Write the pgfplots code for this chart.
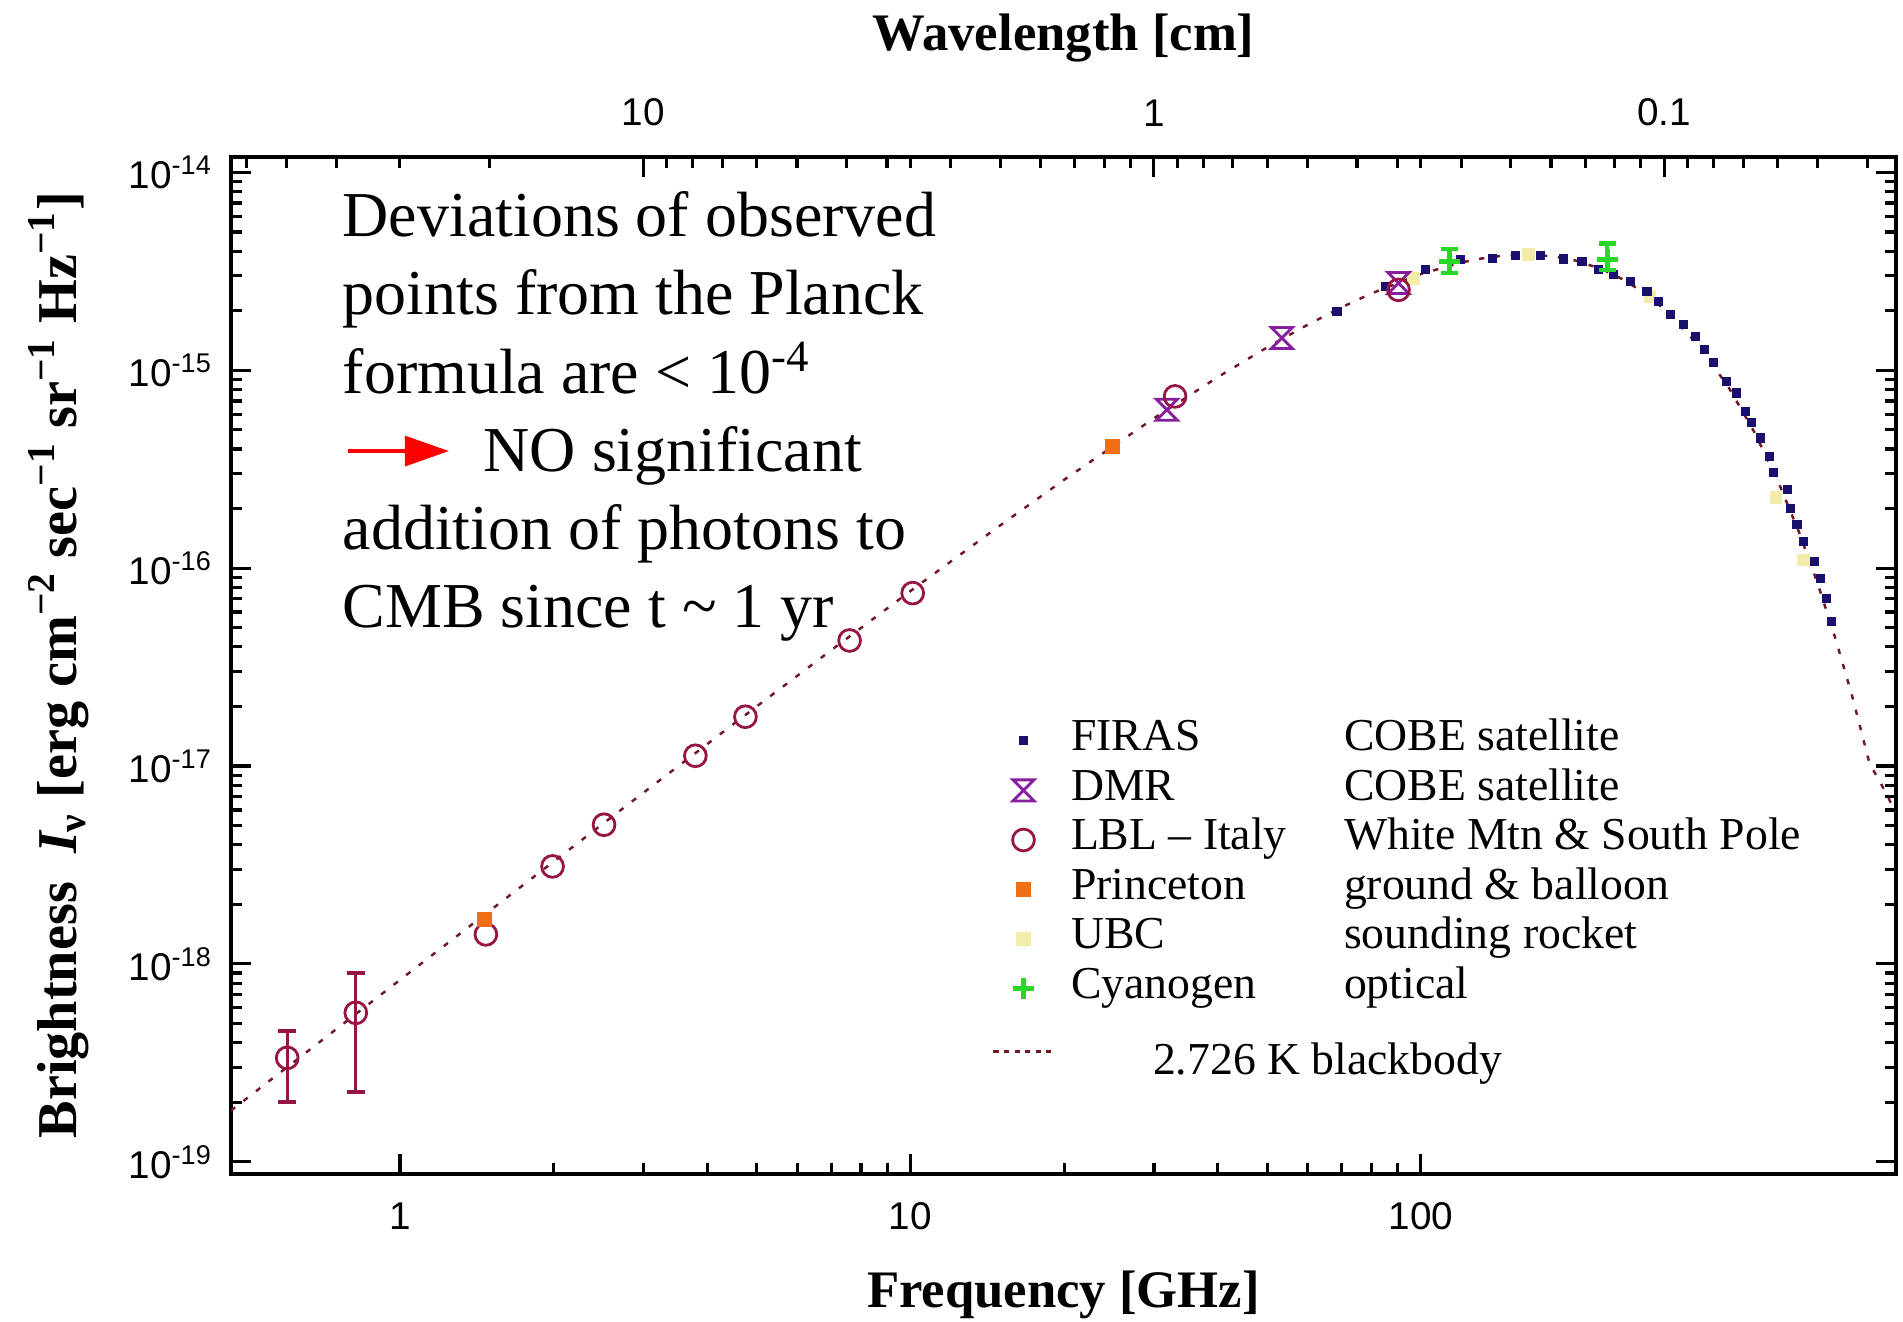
\documentclass[border=0pt]{standalone}
\usepackage{pgfplots}
\pgfplotsset{compat=1.18}
\usepackage{fontspec}
\setmainfont{Liberation Serif}
\setsansfont{Liberation Sans}
\usetikzlibrary{arrows.meta}

\definecolor{bbred}{RGB}{110,25,35}
\definecolor{firas}{RGB}{25,15,110}
\definecolor{dmr}{RGB}{135,30,160}
\definecolor{lbl}{RGB}{150,20,70}
\definecolor{princeton}{RGB}{240,110,20}
\definecolor{ubc}{RGB}{242,238,170}
\definecolor{cngreen}{RGB}{40,215,40}

% hourglass marker for the DMR points
\pgfdeclareplotmark{hourglass}{%
  \pgfpathmoveto{\pgfqpoint{-\pgfplotmarksize}{\pgfplotmarksize}}%
  \pgfpathlineto{\pgfqpoint{\pgfplotmarksize}{\pgfplotmarksize}}%
  \pgfpathlineto{\pgfqpoint{-\pgfplotmarksize}{-\pgfplotmarksize}}%
  \pgfpathlineto{\pgfqpoint{\pgfplotmarksize}{-\pgfplotmarksize}}%
  \pgfpathclose
  \pgfusepathqstroke}

\pgfplotsset{
  cmbbox/.style={
    width=16.65cm, height=10.17cm, scale only axis,
    tick align=inside,
    major tick length=0.2cm, minor tick length=0.11cm,
    every tick/.style={black, line width=0.9pt},
    axis line style={line width=1.2pt},
    tick label style={font=\fontsize{11}{13}\sffamily},
  },
}

\begin{document}
\begin{tikzpicture}
% wavelength labels on top: placed at nu = 29.979/lambda (GHz)
\begin{axis}[
    cmbbox,
    xmode=log,
    xmin=0.4664, xmax=853,
    ymin=0, ymax=1,
    ytick=\empty,
    xtick pos=right, xticklabel pos=right,
    xtick={2.998,29.98,299.8}, xticklabels={10,1,0.1},
    xticklabel style={yshift=0.18cm},
    xlabel={Wavelength [cm]},
    xlabel style={at={(axis description cs:0.5,1.1046)}, anchor=base,
      font=\fontsize{15}{17}\selectfont\bfseries},
]
\addplot[draw=none, forget plot] coordinates {(1,0.5) (10,0.5)};
\end{axis}

\begin{axis}[
    cmbbox,
    xmode=log, ymode=log,
    xmin=0.4664, xmax=853,
    ymin=8.7e-20, ymax=1.2e-14,
    xtick pos=left,
    xtick={1,10,100}, xticklabels={1,10,100},
    ytick={1e-19,1e-18,1e-17,1e-16,1e-15,1e-14},
    yticklabels={10\textsuperscript{-19},10\textsuperscript{-18},10\textsuperscript{-17},
      10\textsuperscript{-16},10\textsuperscript{-15},10\textsuperscript{-14}},
    xticklabel style={yshift=-0.165cm},
    yticklabel style={xshift=-0.06cm},
    xlabel={Frequency [GHz]},
    xlabel style={at={(axis description cs:0.5,-0.1318)}, anchor=base,
      font=\fontsize{15}{17}\selectfont\bfseries},
    ylabel={Brightness\ \ {\itshape I}\textsubscript{ν} [erg cm\textsuperscript{−2} sec\textsuperscript{−1} sr\textsuperscript{−1} Hz\textsuperscript{−1}]},
    ylabel style={at={(axis description cs:-0.0928,0.5)}, anchor=base, rotate=0,
      font=\fontsize{16}{18}\selectfont\bfseries},
    clip mode=individual,
    legend cell align=left,
    legend style={at={(axis description cs:0.457,0.450)}, anchor=north west,
      draw=none, fill=none, inner sep=0pt, outer sep=0pt,
      font=\fontsize{13}{14}\selectfont, row sep=0pt, column sep=0.16cm,
      nodes={inner sep=0pt, text height=9.8pt, text depth=4.3pt}},
]

% wavelength tick marks along the top edge (lambda = 10, 1, 0.1 cm and minors)
\pgfplotsinvokeforeach{2.998,29.98,299.8}{
  \draw[black, line width=0.9pt] (axis cs:#1,1.2e-14) -- ([yshift=-0.2cm]axis cs:#1,1.2e-14);}
\pgfplotsinvokeforeach{0.4997,0.5996,0.7495,0.9993,1.499,
    3.331,3.747,4.283,4.997,5.996,7.495,9.993,14.99,
    33.31,37.47,42.83,49.97,59.96,74.95,99.93,149.9,
    333.1,374.7,428.3,499.7,599.6,749.5}{
  \draw[black, line width=0.9pt] (axis cs:#1,1.2e-14) -- ([yshift=-0.11cm]axis cs:#1,1.2e-14);}

% 2.726 K blackbody
\addplot[bbred, line width=0.7pt, dash pattern=on 1.5pt off 3pt, forget plot] coordinates {
  (0.4664,1.815e-19) (0.6,3.00e-19) (0.8,5.324e-19) (1,8.304e-19)
  (1.5,1.860e-18) (2,3.292e-18) (3,7.342e-18) (5,2.0035e-17)
  (7,3.857e-17) (10,7.661e-17) (15,1.647e-16) (20,2.7955e-16)
  (30,5.723e-16) (40,9.234e-16) (50,1.3061e-15) (60,1.6985e-15)
  (70,2.0826e-15) (80,2.4448e-15) (100,3.0632e-15) (120,3.5064e-15)
  (130,3.6575e-15) (145,3.798e-15) (160,3.8434e-15) (180,3.7771e-15)
  (200,3.597e-15) (225,3.2636e-15) (250,2.8628e-15) (275,2.4429e-15)
  (300,2.0368e-15) (350,1.3376e-15) (400,8.272e-16) (450,4.881e-16)
  (500,2.777e-16) (550,1.5334e-16) (600,8.258e-17) (650,4.355e-17)
  (700,2.256e-17) (757,1.03e-17) (800,8.0e-18) (853,5.8e-18)
};

% UBC (drawn first, mostly hidden under the other points)
\addplot[only marks, mark=square*, mark size=1.6pt, color=ubc, forget plot] coordinates {
  (96.6,2.92e-15) (162.4,3.84e-15) (281,2.36e-15)
  (496,2.28e-16) (561.6,1.10e-16)
};

% FIRAS
\addplot[only marks, mark=square*, mark size=1.1pt, color=firas] coordinates {
  (68.5,1.99e-15) (85.2,2.65e-15) (102,3.22e-15) (119.5,3.62e-15)
  (137.9,3.68e-15) (153.2,3.79e-15) (171.5,3.79e-15) (190.2,3.65e-15)
  (206.9,3.55e-15) (222.7,3.22e-15) (238.6,3.04e-15) (257.3,2.81e-15)
  (277.4,2.51e-15) (292.4,2.23e-15) (308.3,1.91e-15) (326.4,1.70e-15)
  (345.0,1.48e-15) (359.3,1.27e-15) (374.8,1.09e-15) (396.8,8.79e-16)
  (415.2,7.68e-16) (432.3,6.19e-16) (443.6,5.42e-16) (462.8,4.55e-16)
  (482.5,3.67e-16) (491.4,3.03e-16) (521.9,2.49e-16) (529.7,2.01e-16)
  (545.8,1.66e-16) (562.3,1.37e-16) (591.0,1.08e-16) (606.5,8.91e-17)
  (622.2,7.06e-17) (637.4,5.38e-17)
};
\addlegendentry{\makebox[2.73cm][l]{FIRAS}COBE satellite}

% DMR
\addplot[only marks, mark=hourglass, mark size=3pt, color=dmr, line width=0.8pt] coordinates {
  (31.8,6.32e-16) (53.4,1.456e-15) (90.4,2.76e-15)
};
\addlegendentry{\makebox[2.73cm][l]{DMR}COBE satellite}

% LBL - Italy
\addplot[only marks, mark=o, mark size=3.1pt, color=lbl, line width=0.8pt] coordinates {
  (1.473,1.41e-18) (1.99,3.11e-18) (2.51,5.05e-18) (3.79,1.127e-17)
  (4.75,1.775e-17) (7.60,4.31e-17) (10.1,7.48e-17) (33.0,7.38e-16)
  (90.4,2.55e-15)
};
\addlegendentry{\makebox[2.73cm][l]{LBL – Italy}White Mtn \& South Pole}
\addplot[only marks, mark=o, mark size=3.1pt, color=lbl, line width=0.8pt, forget plot,
  error bars/.cd, y dir=both, y explicit,
  error bar style={line width=0.9pt, lbl},
  error mark options={rotate=90, mark size=2.6pt, line width=1.2pt, lbl}]
  coordinates {
  (0.601,3.35e-19) += (0,1.25e-19) -= (0,1.35e-19)
  (0.819,5.66e-19) += (0,3.34e-19) -= (0,3.41e-19)
};

% Princeton
\addplot[only marks, mark=square*, mark size=2pt, color=princeton] coordinates {
  (1.462,1.675e-18) (24.9,4.12e-16)
};
\addlegendentry{\makebox[2.73cm][l]{Princeton}ground \& balloon}

% UBC legend entry
\addlegendimage{only marks, mark=square*, mark size=1.8pt, color=ubc}
\addlegendentry{\makebox[2.73cm][l]{UBC}sounding rocket}

% Cyanogen
\addplot[only marks, mark=+, mark size=3pt, color=cngreen, line width=1.4pt,
  error bars/.cd, y dir=both, y explicit,
  error bar style={line width=1pt, cngreen},
  error mark options={rotate=90, mark size=2.4pt, line width=1.2pt, cngreen}]
  coordinates {
  (113.6,3.55e-15) += (0,0.55e-15) -= (0,0.45e-15)
  (231.7,3.62e-15) += (0,0.75e-15) -= (0,0.40e-15)
};
\addlegendentry{\makebox[2.73cm][l]{Cyanogen}optical}

\addlegendimage{bbred, line width=0.9pt, dash pattern=on 1.5pt off 1.5pt}
\addlegendentry[text height=17.4pt]{\hspace*{0.82cm}2.726 K blackbody}

% annotation
\node[anchor=base west, inner sep=0pt] at (axis description cs:0.0667,0.9214)
  {\parbox[t]{8cm}{\fontsize{18.2}{22.25}\selectfont\raggedright
   Deviations of observed\\
   points from the Planck\\
   formula are < 10\textsuperscript{-4}\\
   \hspace*{1.41cm}NO significant\\
   addition of photons to\\
   CMB since t \textasciitilde{} 1 yr}};
\draw[red, line width=0.9pt, -{Triangle[length=0.44cm,width=0.30cm]}]
  (axis description cs:0.0703,0.7106) -- (axis description cs:0.1309,0.7106);
\end{axis}

\pgfresetboundingbox
\path ([xshift=-2.31cm,yshift=-1.482cm]current axis.south west)
  rectangle ([xshift=0.07cm,yshift=1.567cm]current axis.north east);
\end{tikzpicture}
\end{document}
